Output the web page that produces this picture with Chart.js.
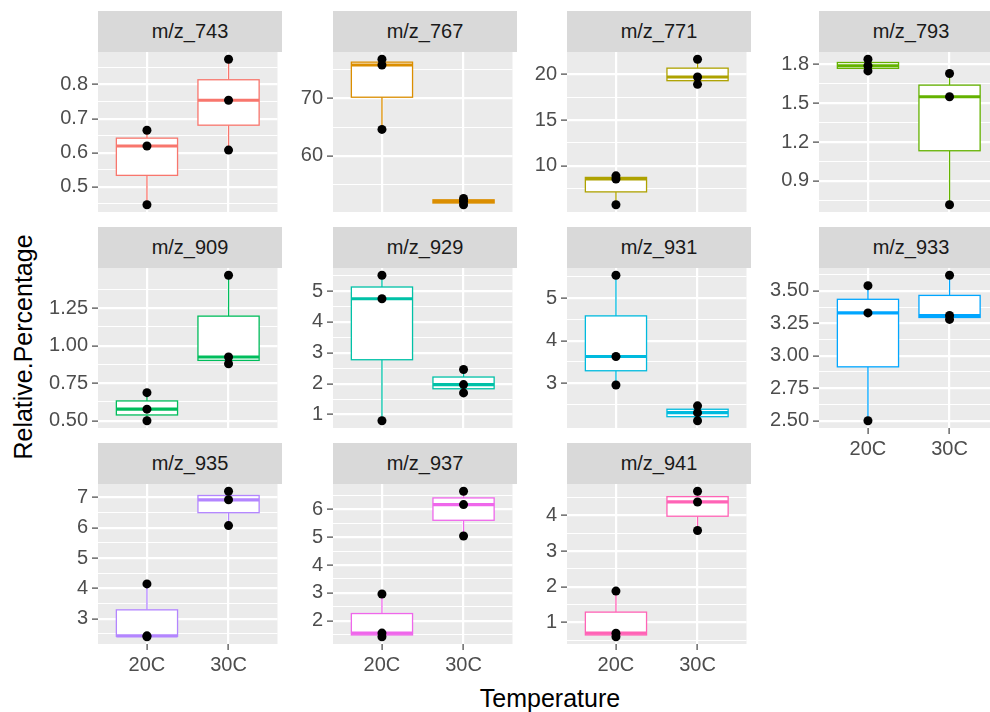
<!DOCTYPE html>
<html lang="en">
<head>
<meta charset="UTF-8">
<title>Relative percentage by temperature</title>
<script src="https://cdn.jsdelivr.net/npm/chart.js@4"></script>
<style>
  * { box-sizing: border-box; margin: 0; padding: 0; }
  body { width: 990px; height: 712px; position: relative; overflow: hidden; background: #fff;
         font-family: 'Liberation Sans', Arial, sans-serif; }
  .strip { position: absolute; height: 41px; background: #D9D9D9; color: #1A1A1A; font-size: 20px;
           display: flex; align-items: center; justify-content: center; }
  canvas { position: absolute; }
  .ytitle { position: absolute; left: 23px; top: 347px; transform: translate(-50%, -50%) rotate(-90deg);
            font-size: 25px; white-space: nowrap; color: #000; }
  .xtitle { position: absolute; left: 550px; top: 698px; transform: translate(-50%, -50%);
            font-size: 25px; white-space: nowrap; color: #000; }
</style>
</head>
<body>
<div class="ytitle">Relative.Percentage</div>
<div class="xtitle">Temperature</div>
<script>
// ── Data ────────────────────────────────────────────────────────────────────
const ions = ['m/z_743', 'm/z_767', 'm/z_771', 'm/z_793', 'm/z_909', 'm/z_929',
              'm/z_931', 'm/z_933', 'm/z_935', 'm/z_937', 'm/z_941'];
const temps = ['20C', '30C'];

// three replicates per group
const vals20C = [
  [0.666, 0.620, 0.448],
  [76.8, 75.8, 64.6],
  [8.90, 8.55, 5.74],
  [1.84, 1.79, 1.75],
  [0.687, 0.577, 0.500],
  [5.51, 4.75, 0.80],
  [5.54, 3.63, 2.96],
  [3.54, 3.33, 2.50],
  [4.15, 2.44, 2.41],
  [2.96, 1.55, 1.42],
  [1.88, 0.70, 0.60]
];
const vals30C = [
  [0.874, 0.754, 0.608],
  [52.6, 52.1, 51.5],
  [21.64, 19.70, 18.90],
  [1.73, 1.55, 0.715],
  [1.47, 0.925, 0.880],
  [2.46, 1.97, 1.70],
  [2.47, 2.31, 2.12],
  [3.62, 3.31, 3.28],
  [7.20, 6.92, 6.07],
  [6.66, 6.18, 5.05],
  [4.68, 4.38, 3.58]
];

const yTickLabels = [
  ['0.5', '0.6', '0.7', '0.8'],
  ['60', '70'],
  ['10', '15', '20'],
  ['0.9', '1.2', '1.5', '1.8'],
  ['0.50', '0.75', '1.00', '1.25'],
  ['1', '2', '3', '4', '5'],
  ['3', '4', '5'],
  ['2.50', '2.75', '3.00', '3.25', '3.50'],
  ['3', '4', '5', '6', '7'],
  ['2', '3', '4', '5', '6'],
  ['1', '2', '3', '4']
];

// ggplot hue palette, one per ion
const hue = ['#F8766D', '#DB8E00', '#AEA200', '#64B200', '#00BD5C', '#00C1A7',
             '#00BADE', '#00A6FF', '#B385FF', '#EF67EB', '#FF63B6'];

// panels that carry the x axis (bottom of each column)
const xAxisPanels = ['m/z_933', 'm/z_935', 'm/z_937', 'm/z_941'];

// ── Layout ──────────────────────────────────────────────────────────────────
const colLeft = [98, 333, 567, 819];
const rowTop = [52, 268, 484];
const PW = 184, PH = 160, STRIP = 41, AXW = 60, XAXH = 36, M = 14;

Chart.defaults.font.family = "'Liberation Sans', Arial, sans-serif";

function quant(s, p) {
  const h = (s.length - 1) * p, lo = Math.floor(h);
  const hi = Math.min(lo + 1, s.length - 1);
  return s[lo] + (h - lo) * (s[hi] - s[lo]);
}

function boxPlugin(groups, color) {
  return {
    id: 'boxes',
    beforeDraw(chart) {
      const a = chart.chartArea, ctx = chart.ctx;
      ctx.save();
      ctx.fillStyle = '#EBEBEB';
      ctx.fillRect(a.left, a.top, a.right - a.left, a.bottom - a.top);
      ctx.restore();
    },
    beforeDatasetsDraw(chart) {
      const ctx = chart.ctx, xs = chart.scales.x, ys = chart.scales.y;
      ctx.save();
      groups.forEach((vals, i) => {
        const s = [...vals].sort((a, b) => a - b);
        const lo = s[0], hi = s[s.length - 1];
        const q1 = quant(s, 0.25), md = quant(s, 0.5), q3 = quant(s, 0.75);
        const cx = xs.getPixelForValue(i + 1);
        const half = xs.getPixelForValue(i + 1.375) - cx;
        const yq1 = ys.getPixelForValue(q1), yq3 = ys.getPixelForValue(q3);
        ctx.strokeStyle = color;
        ctx.lineWidth = 1.3;
        ctx.beginPath();
        ctx.moveTo(cx, yq3); ctx.lineTo(cx, ys.getPixelForValue(hi));
        ctx.moveTo(cx, yq1); ctx.lineTo(cx, ys.getPixelForValue(lo));
        ctx.stroke();
        ctx.fillStyle = '#fff';
        ctx.fillRect(cx - half, yq3, half * 2, yq1 - yq3);
        ctx.strokeRect(cx - half, yq3, half * 2, yq1 - yq3);
        ctx.lineWidth = 3.2;
        ctx.beginPath();
        const ym = ys.getPixelForValue(md);
        ctx.moveTo(cx - half, ym); ctx.lineTo(cx + half, ym);
        ctx.stroke();
      });
      ctx.restore();
    }
  };
}

ions.forEach((ion, k) => {
  const col = k % 4, row = Math.floor(k / 4);
  const hasX = xAxisPanels.includes(ion);
  const groups = [vals20C[k], vals30C[k]];

  // strip
  const strip = document.createElement('div');
  strip.className = 'strip';
  strip.textContent = ion;
  strip.style.left = colLeft[col] + 'px';
  strip.style.top = (rowTop[row] - STRIP) + 'px';
  strip.style.width = PW + 'px';
  document.body.appendChild(strip);

  // y range: data range expanded 5% each side
  const all = groups.flat();
  const dmin = Math.min(...all), dmax = Math.max(...all);
  const ext = (dmax - dmin) * 0.05;
  const ymin = dmin - ext, ymax = dmax + ext;

  const labs = yTickLabels[k];
  const majors = labs.map(l => parseFloat(l));
  const step = majors[1] - majors[0];
  const yTicks = majors.map((v, i) => ({ value: v, lab: labs[i] }));
  for (let v = majors[0] - step / 2; v < ymax; v += step) {
    if (v > ymin) yTicks.push({ value: v, minor: true });
  }
  yTicks.sort((a, b) => a.value - b.value);

  const points = [];
  groups.forEach((vals, i) => vals.forEach(v => points.push({ x: i + 1, y: v })));

  const cv = document.createElement('canvas');
  const h = PH + M + (hasX ? XAXH : M);
  cv.width = AXW + PW;
  cv.height = h;
  cv.style.left = (colLeft[col] - AXW) + 'px';
  cv.style.top = (rowTop[row] - M) + 'px';
  cv.style.width = (AXW + PW) + 'px';
  cv.style.height = h + 'px';
  document.body.appendChild(cv);

  new Chart(cv, {
    type: 'scatter',
    data: {
      datasets: [{
        data: points, pointRadius: 4.5, pointHoverRadius: 4.5,
        backgroundColor: '#000', borderColor: '#000', borderWidth: 0, clip: false
      }]
    },
    options: {
      responsive: false, animation: false, devicePixelRatio: 1, events: [],
      layout: { padding: { top: M, bottom: hasX ? 0 : M, left: 0, right: 0 } },
      plugins: { legend: { display: false }, tooltip: { enabled: false } },
      scales: {
        x: {
          type: 'linear', min: 0.4, max: 2.6,
          afterBuildTicks: s => { s.ticks = temps.map((t, i) => ({ value: i + 1 })); },
          afterFit: s => { s.height = hasX ? XAXH : 0; s.paddingLeft = 0; s.paddingRight = 0; },
          border: { display: false },
          grid: { color: '#fff', lineWidth: 2.2, drawTicks: hasX, tickLength: 6, tickColor: '#333333', tickWidth: 1.1 },
          ticks: {
            display: hasX, autoSkip: false, maxRotation: 0, padding: 3,
            color: '#4D4D4D', font: { size: 20 },
            callback: v => temps[Math.round(v) - 1] || ''
          }
        },
        y: {
          min: ymin, max: ymax,
          afterBuildTicks: s => { s.ticks = yTicks.map(t => ({ ...t })); },
          afterFit: s => { s.width = AXW; s.paddingTop = 0; s.paddingBottom = 0; },
          border: { display: false },
          grid: {
            color: '#fff',
            lineWidth: c => (c.tick && c.tick.minor ? 1.1 : 2.2),
            tickLength: 6,
            tickColor: c => (c.tick && c.tick.minor ? 'rgba(0,0,0,0)' : '#333333'),
            tickWidth: 1.1
          },
          ticks: {
            autoSkip: false, padding: 4, color: '#4D4D4D', font: { size: 20 },
            callback: (v, i, ts) => (ts[i] && ts[i].lab) || ''
          }
        }
      }
    },
    plugins: [boxPlugin(groups, hue[k])]
  });
});
</script>
</body>
</html>
